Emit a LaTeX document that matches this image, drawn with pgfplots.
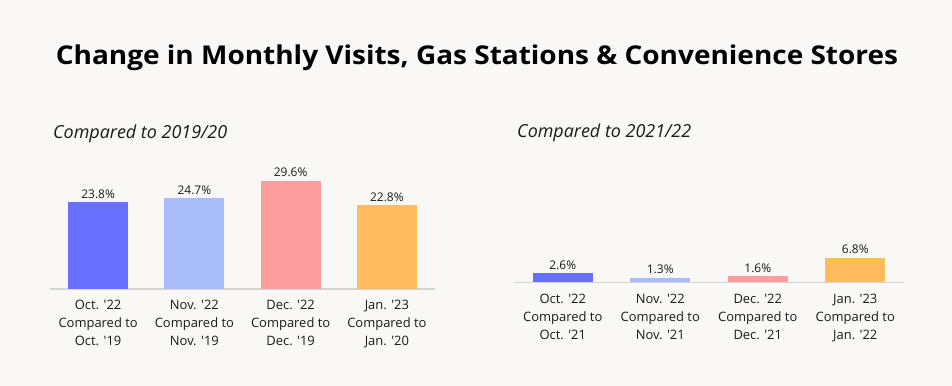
\documentclass[border=0pt]{standalone}
\usepackage{fontspec}
\setmainfont{Open Sans}
\usepackage{pgfplots}
\pgfplotsset{compat=1.18}
\definecolor{bg}{HTML}{F9F8F7}
\definecolor{cOct}{HTML}{6970FF}
\definecolor{cNov}{HTML}{A8BCF9}
\definecolor{cDec}{HTML}{FF9E9F}
\definecolor{cJan}{HTML}{FFBD5F}
\definecolor{axgray}{HTML}{D4D4D4}
\definecolor{txt}{HTML}{1A1A1A}
\newcommand\q{\textquotesingle}
\pgfplotsset{
  panel/.style={
    scale only axis, anchor=south west,
    xmin=-0.5, xmax=3.5, ymin=0,
    axis x line*=bottom, axis y line=none,
    x axis line style={color=axgray, line width=1.2bp},
    xtick={0,1,2,3}, major tick length=0pt,
    xticklabel style={align=center, font=\fontsize{13}{18}\selectfont, text=txt, yshift=-8bp},
    ybar, bar width=60bp,
    every axis plot/.append style={bar shift=0pt, draw=none},
    /pgf/number format/assume math mode=true,
    nodes near coords={\pgfmathprintnumber[fixed,fixed zerofill,precision=1,assume math mode=true]{\pgfplotspointmeta}\%},
    every node near coord/.append style={font=\fontsize{12}{14}\selectfont, text=txt},
    clip=false,
  }
}
\begin{document}
\begin{tikzpicture}[x=1bp,y=1bp]
\fill[bg] (0,0) rectangle (952bp,386bp);
\useasboundingbox (0,0) rectangle (952bp,386bp);
\node[anchor=base, inner sep=0, text=black, font=\bfseries\fontsize{26}{30}\selectfont] at (477bp,321bp) {\scalebox{1.08}[1]{Change in Monthly Visits, Gas Stations \& Convenience Stores}};
\node[anchor=base west, inner sep=0, text=txt, font=\itshape\fontsize{18}{22}\selectfont] at (53bp,247bp) {Compared to 2019/20};
\node[anchor=base west, inner sep=0, text=txt, font=\itshape\fontsize{18}{22}\selectfont] at (517bp,248bp) {Compared to 2021/22};

\begin{axis}[panel, at={(50bp,97bp)}, width=385bp, height=140bp, ymax=38.2,
  xticklabels={{Oct. \q22\\Compared to\\Oct. \q19},{Nov. \q22\\Compared to\\Nov. \q19},{Dec. \q22\\Compared to\\Dec. \q19},{Jan. \q23\\Compared to\\Jan. \q20}}]
\addplot[fill=cOct] coordinates {(0,23.8)};
\addplot[fill=cNov] coordinates {(1,24.7)};
\addplot[fill=cDec] coordinates {(2,29.6)};
\addplot[fill=cJan] coordinates {(3,22.8)};
\end{axis}

\begin{axis}[panel, at={(514bp,103.7bp)}, width=390bp, height=140bp, ymax=38.6,
  xticklabels={{Oct. \q22\\Compared to\\Oct. \q21},{Nov. \q22\\Compared to\\Nov. \q21},{Dec. \q22\\Compared to\\Dec. \q21},{Jan. \q23\\Compared to\\Jan. \q22}}]
\addplot[fill=cOct] coordinates {(0,2.6)};
\addplot[fill=cNov] coordinates {(1,1.3)};
\addplot[fill=cDec] coordinates {(2,1.6)};
\addplot[fill=cJan] coordinates {(3,6.8)};
\end{axis}
\end{tikzpicture}
\end{document}
